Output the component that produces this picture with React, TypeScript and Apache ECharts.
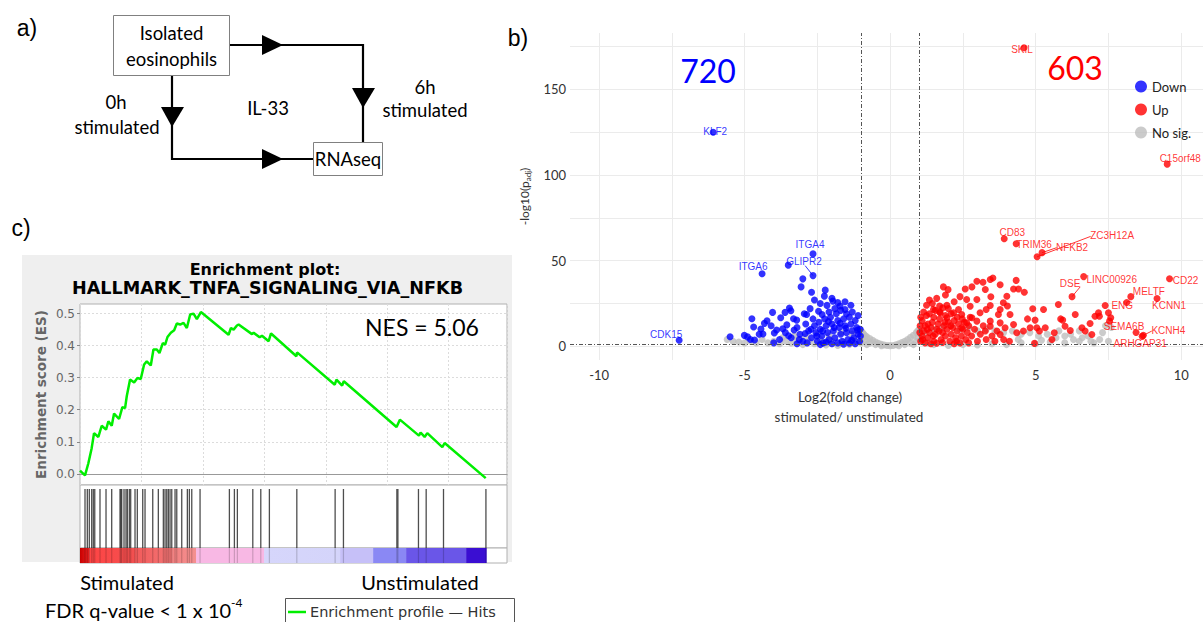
import React, { useEffect, useRef } from "react";
import * as echarts from "echarts";

// ---------------- Panel b: volcano data ----------------
const volcanoXLabels = [-10, -5, 0, 5, 10];
const volcanoXGrid = [-10, -7.5, -5, -2.5, 0, 2.5, 5, 7.5, 10];
const volcanoYLabels = [0, 50, 100, 150];
const volcanoYGrid = [0, 25, 50, 75, 100, 125, 150, 175];
const foldThresholds = [-1, 1];
const pThreshold = 1.3;
const countDown = "720";
const countUp = "603";

const upPoints: [number, number][] = [
  [1.05, 3], [1.1, 6], [1.15, 9], [1.2, 12], [1.1, 15], [1.25, 18], [1.3, 5], [1.35, 8], [1.4, 11], [1.45, 14],
  [1.5, 3], [1.55, 7], [1.6, 10], [1.65, 13], [1.7, 16], [1.75, 4], [1.8, 8], [1.85, 12], [1.9, 6], [1.95, 10],
  [2.0, 14], [2.05, 3], [2.1, 7], [2.15, 11], [2.2, 15], [2.25, 5], [2.3, 9], [2.35, 13], [2.4, 2], [2.45, 6],
  [2.5, 10], [2.55, 14], [2.6, 4], [2.65, 8], [2.7, 12], [2.75, 17], [1.15, 20], [1.35, 19], [1.55, 21], [1.2, 2],
  [1.4, 1.5], [1.6, 1.8], [1.8, 2.2], [1.02, 8], [1.03, 12], [1.05, 17], [1.3, 13], [1.5, 17], [1.7, 20], [1.9, 18],
  [2.1, 19], [2.3, 17], [2.8, 6], [2.9, 10], [3.0, 3], [3.1, 7], [3.2, 12], [3.3, 4], [3.5, 6], [3.6, 3],
  [3.9, 4], [4.1, 3], [2.2, 1.5], [2.7, 2], [2.0, 22], [1.25, 24], [1.45, 25], [1.7, 23.5], [1.95, 24],
  [1.35, 27], [1.6, 28], [2.2, 26], [2.4, 29], [1.9, 30], [1.12, 4], [1.28, 10], [1.48, 6], [1.68, 9], [1.88, 14],
  [2.08, 12], [2.28, 3], [2.48, 16], [1.83, 34.7], [1.99, 33.1], [2.58, 33.5], [2.81, 34.7], [2.98, 38], [3.19, 37.4],
  [3.44, 39], [3.53, 39.9], [3.46, 28.9], [3.27, 33.2], [3.78, 36], [4.01, 29.2], [4.24, 33.5], [4.33, 38.5],
  [4.41, 33.5], [4.61, 31.6], [3.89, 25.4], [4.03, 23.5], [3.78, 21.5], [3.72, 18.6], [3.44, 23.8], [3.3, 21.5],
  [2.98, 27.3], [2.63, 27.3], [2.75, 23.4], [3.09, 19.6], [2.81, 16.7], [2.35, 21.5], [2.46, 18.6], [2.18, 19.6],
  [1.81, 22.5], [1.49, 21.5], [1.72, 19.6], [1.95, 16.7], [4.9, 21.9], [5.27, 21.5], [5.78, 24.4], [5.86, 16],
  [5.93, 15.3], [6.36, 18.6], [4.72, 16], [4.98, 15.3], [4.81, 10.8], [5.04, 10.8], [5.13, 8.9], [5.33, 10.8],
  [4.96, 1.7], [5.56, 4], [5.64, 7.9], [6.01, 11.7], [6.19, 9.2], [6.59, 10.8], [6.7, 8.9], [6.87, 13.3],
  [6.93, 6.9], [7.04, 17.6], [7.16, 19.6], [7.19, 17.6], [7.5, 19.6], [7.58, 16.7], [7.54, 14.7], [8.13, 25.6],
  [4.24, 12.7], [3.95, 10.8], [3.67, 8.9], [3.78, 13.7], [3.44, 11.7], [3.27, 8.9], [4.35, 7.9], [4.58, 8.9],
  [4.12, 18.6], [3.44, 14.7], [2.98, 14.7], [2.63, 13.7], [2.46, 10.8], [3.78, 6.9],
];

const downPoints: [number, number][] = [
  [-5.5, 5.6], [-5.01, 6.4], [-4.9, 5.5], [-4.75, 16.1], [-4.69, 11.3], [-4.66, 3.7], [-4.44, 10.1], [-4.32, 13.4],
  [-4.23, 14.9], [-4.09, 12], [-3.98, 7.8], [-4.04, 19.8], [-4.37, 7.2], [-3.76, 16.7], [-3.69, 10.3], [-3.61, 19.8],
  [-3.46, 22.3], [-3.41, 20.8], [-3.49, 6.2], [-3.32, 16.1], [-3.21, 15.3], [-3.06, 34.7], [-3.0, 39.4], [-2.87, 18.6],
  [-2.7, 31.6], [-2.23, 32.8], [-2.26, 29.3], [-1.97, 26.4], [-2.17, 23.9], [-1.72, 23.5], [-1.55, 21.5], [-2.46, 20.5],
  [-2.34, 18.6], [-3.5, 47.4], [-1.05, 3], [-1.1, 7], [-1.15, 11], [-1.2, 15], [-1.25, 5], [-1.3, 9], [-1.35, 13],
  [-1.4, 17], [-1.45, 4], [-1.5, 8], [-1.55, 12], [-1.6, 16], [-1.65, 3], [-1.7, 7], [-1.75, 11], [-1.8, 15],
  [-1.85, 19], [-1.9, 5], [-1.95, 9], [-2.0, 13], [-2.05, 17], [-2.1, 4], [-2.15, 8], [-2.2, 12], [-2.25, 16],
  [-2.3, 2], [-2.35, 6], [-2.4, 10], [-2.45, 14], [-2.5, 3], [-2.55, 8], [-2.6, 12], [-2.65, 16], [-2.7, 5],
  [-2.8, 9], [-2.9, 13], [-3.0, 3], [-3.1, 7], [-3.2, 11], [-3.4, 5], [-3.6, 8], [-3.8, 4], [-1.1, 18], [-1.3, 20],
  [-1.5, 19], [-1.7, 21], [-1.9, 22], [-2.1, 20], [-1.2, 1.5], [-1.4, 1.8], [-1.6, 1.2], [-1.8, 2], [-2.0, 1.5],
  [-2.2, 2.5], [-2.4, 1], [-1.02, 6], [-1.03, 10], [-2.75, 22], [-2.95, 19], [-1.35, 24], [-1.55, 26], [-1.8, 25.5],
  [-2.0, 28], [-2.4, 25], [-2.6, 27], [-3.2, 1.5], [-2.85, 2], [-4.0, 2], [-4.8, 4], [-4.5, 7], [-1.12, 9.5],
  [-1.32, 3.5], [-1.52, 10.5], [-1.72, 13.5], [-1.92, 11], [-2.12, 14.5], [-2.32, 9], [-2.52, 6], [-2.72, 10],
  [-2.92, 7.5], [-3.12, 4], [-3.3, 9.5], [-3.55, 12.5], [-3.9, 9.5],
];

const nsPoints: [number, number][] = [
  [-5.6, 4], [-5.4, 3], [-5.2, 2.5], [-5.0, 2], [-4.8, 3], [-4.6, 2], [-4.4, 4], [-4.2, 2], [-4.0, 3], [-3.8, 1.5],
  [-3.6, 3], [-3.4, 2], [-3.2, 4], [-3.0, 1], [-2.8, 3], [-2.6, 1.5], [-2.4, 4], [-2.2, 0.8], [-2.0, 3], [-1.8, 0.5],
  [-1.6, 2.5], [-1.4, 1], [-1.2, 3], [-1.0, 2], [-3.7, 5], [-3.3, 6], [-2.9, 5.5], [-2.5, 7], [-2.1, 6], [-1.7, 8],
  [-1.3, 7], [-1.1, 9], [-1.05, 10], [-1.0, 9], [-0.95, 8], [-0.9, 7], [-0.85, 6], [-0.8, 5.5], [-0.7, 4.5],
  [-0.6, 3.5], [-0.5, 2.5], [-0.4, 1.8], [-0.3, 1.2], [-0.2, 0.8], [-0.1, 0.5], [0, 0.4], [0.1, 0.5], [0.2, 0.9],
  [0.3, 1.5], [0.4, 2.2], [0.5, 3], [0.6, 4], [0.7, 5.2], [0.8, 6.5], [0.9, 8], [0.95, 9], [1.0, 10], [-0.9, 3],
  [-0.7, 2], [-0.5, 1], [0.5, 1], [0.7, 2], [0.9, 3], [-0.8, 1], [0.8, 1], [-0.95, 5], [0.95, 5], [-0.3, 0.3],
  [0.3, 0.3], [1.2, 8], [1.5, 10], [1.8, 11], [2.1, 12], [2.4, 10], [2.7, 11], [3, 9], [3.3, 10], [3.6, 9],
  [3.9, 8], [4.2, 9], [4.5, 7], [4.8, 8], [5.1, 6], [5.4, 7], [5.7, 5], [6, 6], [6.3, 4], [6.6, 5], [6.9, 3],
  [7.2, 4], [7.5, 3], [1.5, 1], [2, 0.5], [2.5, 1], [3, 0.8], [3.5, 1.5], [4, 1], [4.5, 2], [5, 1.5], [5.5, 2.5],
  [6, 2], [6.5, 3], [7, 2], [5.8, 9], [6.5, 9], [7.3, 8], [7.6, 11], [7.4, 12], [1.1, 4], [1.3, 2], [4.4, 4],
  [5.2, 3.5], [6.2, 7], [6.8, 6],
];

const labeledUp = [
  { name: "SKIL", x: 4.6, y: 174.4 },
  { name: "C15orf48", x: 9.52, y: 106.4 },
  { name: "CD83", x: 3.92, y: 62.8 },
  { name: "TRIM36", x: 4.33, y: 59.9 },
  { name: "NFKB2", x: 5.22, y: 54.7 },
  { name: "ZC3H12A", x: 5.05, y: 52.3 },
  { name: "DSE", x: 6.25, y: 29 },
  { name: "LINC00926", x: 6.65, y: 40.7 },
  { name: "CD22", x: 9.6, y: 39.5 },
  { name: "MELTF", x: 8.27, y: 29 },
  { name: "KCNN1", x: 9.17, y: 27.9 },
  { name: "ENG", x: 7.39, y: 23.8 },
  { name: "SEMA6B", x: 8.45, y: 8.1 },
  { name: "KCNH4", x: 8.7, y: 6.4 },
  { name: "ARHGAP31", x: 8.66, y: 5.8 },
];
const labeledDown = [
  { name: "KLF2", x: -6.08, y: 125 },
  { name: "ITGA4", x: -2.65, y: 54 },
  { name: "GLIPR2", x: -2.65, y: 41.3 },
  { name: "ITGA6", x: -4.4, y: 42.4 },
  { name: "CDK15", x: -7.25, y: 3.5 },
];
// label placement (pixel offsets from point centre)
const labelOffsets: Record<string, [number, number]> = {
  SKIL: [-2, 2], C15orf48: [13, -6], CD83: [8, -6], TRIM36: [18, 1], NFKB2: [30, -5], ZC3H12A: [75, -21],
  DSE: [-2, -13], LINC00926: [28, 3], CD22: [16, 2], MELTF: [18, -5], KCNN1: [12, 7], ENG: [17, 0],
  SEMA6B: [-12, -6], KCNH4: [25, -5], ARHGAP31: [-2, 7], KLF2: [2, -1], ITGA4: [-3, -9], GLIPR2: [-9, -14],
  ITGA6: [-9, -7], CDK15: [-13, -6],
};
const upConnectors: [[number, number], [number, number]][] = [
  [[5.05, 52.3], [6.89, 64.2]],
  [[5.22, 54.7], [5.72, 57.6]],
  [[6.25, 29], [6.53, 34.7]],
  [[8.7, 6.4], [8.99, 8.9]],
];
const downConnectors: [[number, number], [number, number]][] = [[[-2.65, 41.3], [-2.92, 47.1]]];

// ---------------- Panel c: GSEA data ----------------
const esTicks = [0, 0.1, 0.2, 0.3, 0.4, 0.5];
const esCurve: [number, number][] = [
  [0, 0.01], [163, -0.005], [272, 0.033], [380, 0.08], [457, 0.127], [598, 0.115], [707, 0.15], [848, 0.138],
  [924, 0.164], [1033, 0.15], [1109, 0.188], [1272, 0.171], [1380, 0.208], [1467, 0.205], [1522, 0.242],
  [1630, 0.294], [1761, 0.285], [1870, 0.299], [1978, 0.296], [2087, 0.341], [2174, 0.351], [2304, 0.338],
  [2391, 0.388], [2500, 0.388], [2587, 0.377], [2696, 0.408], [2772, 0.403], [2848, 0.427], [2957, 0.44],
  [3065, 0.448], [3152, 0.469], [3261, 0.466], [3370, 0.471], [3478, 0.455], [3587, 0.497], [3696, 0.5],
  [3804, 0.483], [3935, 0.505], [4837, 0.434], [4913, 0.455], [5000, 0.45], [5109, 0.463], [5163, 0.466],
  [5598, 0.436], [5652, 0.44], [5848, 0.426], [5924, 0.431], [6141, 0.414], [6218, 0.438], [7044, 0.367],
  [7066, 0.379], [8294, 0.278], [8348, 0.294], [8533, 0.275], [8587, 0.289], [10305, 0.146], [10413, 0.169],
  [11033, 0.119], [11087, 0.129], [11218, 0.115], [11305, 0.127], [11794, 0.083], [11870, 0.096], [13207, -0.0135],
];
const hitRanks = [
  163, 238, 303, 381, 433, 480, 651, 847, 1032, 1303, 1330, 1358, 1433, 1498, 1541, 1606, 1650, 1791, 1866,
  2042, 2117, 2368, 2550, 2713, 2768, 2824, 2876, 2931, 2987, 3094, 3150, 3312, 3495, 3560, 3638, 3908, 4863,
  5026, 5123, 5625, 5885, 6165, 7058, 8305, 8576, 10315, 10348, 11018, 11269, 11833, 13214,
];
const rankSegments: [number, number][] = [
  [0, 300], [300, 1800], [1800, 3000], [3000, 3778], [3778, 5993], [5993, 8468], [8468, 9543], [9543, 10618],
  [10618, 12572], [12572, 13223],
];
const segmentColors: [string, string][] = [
  ["#c80000", "#f02424"], ["#ff4444", "#f25050"], ["#f35a5a", "#f27676"], ["#f38080", "#f49090"],
  ["#f8b8e4", "#f8b8e4"], ["#d6d6fb", "#d4d4fa"], ["#c6c0f8", "#c6c0f8"], ["#8a88f4", "#8a88f4"],
  ["#6a56e8", "#6a56e8"], ["#3a0ed2", "#3a0ed2"],
];
const rankMax = 13900;

const SANS = "Lato";

function buildOption(): any {
  const txt = (text: string, x: number, y: number, size: number, extra: any = {}) => ({
    type: "text",
    x,
    y,
    style: {
      text,
      fill: "#000",
      fontSize: size,
      fontFamily: SANS,
      textAlign: "center",
      textVerticalAlign: "middle",
      ...extra,
    },
  });
  const tri = (pts: number[][]) => ({ type: "polygon", shape: { points: pts }, style: { fill: "#000" } });

  const labelSeries = (items: any[], color: string, name: string, conns: any[]) => ({
    type: "scatter",
    name,
    xAxisIndex: 0,
    yAxisIndex: 0,
    symbolSize: 7,
    itemStyle: { color },
    z: 5,
    data: items.map((g) => ({
      name: g.name,
      value: [g.x, g.y],
      label: {
        show: true,
        position: "inside",
        offset: labelOffsets[g.name],
        formatter: g.name,
        color,
        fontSize: 10,
        fontFamily: "Liberation Sans",
      },
    })),
    markLine: {
      silent: true,
      symbol: "none",
      label: { show: false },
      lineStyle: { color, width: 0.8, type: "solid" },
      data: conns.map((c) => [{ coord: c[0] }, { coord: c[1] }]),
    },
  });

  return {
    animation: false,
    backgroundColor: "#fff",
    textStyle: { fontFamily: SANS },
    legend: {
      data: ["Down", "Up", "No sig."],
      orient: "vertical",
      left: 1130,
      top: 75,
      itemWidth: 12,
      itemHeight: 12,
      itemGap: 10,
      icon: "circle",
      textStyle: { fontFamily: SANS, fontSize: 13, color: "#222" },
    },
    grid: [
      { left: 570, top: 33, width: 633, height: 327 },
      { left: 80, top: 304, width: 427, height: 181, show: true, backgroundColor: "#fff", borderColor: "#b0b0b0", borderWidth: 1 },
      { left: 80, top: 485, width: 427, height: 63, show: true, backgroundColor: "#fff", borderColor: "#b0b0b0", borderWidth: 1 },
      { left: 80, top: 548, width: 427, height: 15, show: true, backgroundColor: "#fff", borderColor: "#b0b0b0", borderWidth: 1 },
    ],
    xAxis: [
      {
        type: "value",
        gridIndex: 0,
        min: -11,
        max: 10.75,
        axisLine: { show: false },
        axisTick: { show: false, customValues: volcanoXGrid },
        axisLabel: { customValues: volcanoXLabels, color: "#333", fontSize: 13, fontFamily: SANS, margin: 8 },
        splitLine: { show: true, lineStyle: { color: "#ebebeb", width: 1 } },
      },
      {
        type: "value",
        gridIndex: 1,
        min: 0,
        max: rankMax,
        interval: 2000,
        axisLabel: { show: false },
        axisTick: { show: false },
        axisLine: { show: true, onZero: true, lineStyle: { color: "#999", width: 1 } },
        splitLine: { show: true, lineStyle: { color: "#dcdcdc", type: [2, 2] } },
      },
      { type: "value", gridIndex: 2, min: 0, max: rankMax, show: false },
      { type: "value", gridIndex: 3, min: 0, max: rankMax, show: false },
    ],
    yAxis: [
      {
        type: "value",
        gridIndex: 0,
        min: -8,
        max: 183,
        axisLine: { show: false },
        axisTick: { show: false, customValues: volcanoYGrid },
        axisLabel: { customValues: volcanoYLabels, color: "#333", fontSize: 13, fontFamily: SANS, margin: 4 },
        splitLine: { show: true, lineStyle: { color: "#ebebeb", width: 1 } },
        name: "{a|-log10(p}{s|adj}{a|)}",
        nameLocation: "middle",
        nameGap: 27,
        nameTextStyle: {
          rich: {
            a: { fontSize: 12, fontFamily: SANS, color: "#333", lineHeight: 16, verticalAlign: "middle" },
            s: { fontSize: 8, fontFamily: SANS, color: "#333", lineHeight: 9, verticalAlign: "bottom" },
          },
        },
      },
      {
        type: "value",
        gridIndex: 1,
        min: -0.035,
        max: 0.53,
        axisLine: { show: false },
        axisTick: { show: true, customValues: esTicks, length: 3, lineStyle: { color: "#888" } },
        axisLabel: {
          customValues: esTicks,
          formatter: (v: number) => v.toFixed(1),
          color: "#666",
          fontSize: 12,
          fontFamily: "DejaVu Sans",
          margin: 5,
        },
        splitLine: { show: true, lineStyle: { color: "#dcdcdc", type: [2, 2] } },
        name: "Enrichment score (ES)",
        nameLocation: "middle",
        nameGap: 32,
        nameTextStyle: { color: "#666", fontSize: 13.5, fontFamily: "DejaVu Sans", fontWeight: "bold" },
      },
      { type: "value", gridIndex: 2, min: 0, max: 1, show: false },
      { type: "value", gridIndex: 3, min: 0, max: 1, show: false },
    ],
    series: [
      {
        type: "scatter",
        name: "No sig.",
        xAxisIndex: 0,
        yAxisIndex: 0,
        symbolSize: 7,
        itemStyle: { color: "#bebebe" },
        data: nsPoints,
        z: 2,
        markLine: {
          silent: true,
          symbol: "none",
          label: { show: false },
          lineStyle: { color: "#555", width: 1, type: [4, 2, 1, 2] },
          data: [...foldThresholds.map((v) => ({ xAxis: v })), { yAxis: pThreshold }],
        },
      },
      { type: "scatter", name: "Down", xAxisIndex: 0, yAxisIndex: 0, symbolSize: 7, itemStyle: { color: "#0000ff" }, data: downPoints, z: 3 },
      { type: "scatter", name: "Up", xAxisIndex: 0, yAxisIndex: 0, symbolSize: 7, itemStyle: { color: "#ff0000" }, data: upPoints, z: 3 },
      labelSeries(labeledDown, "#0000ff", "Down", downConnectors),
      labelSeries(labeledUp, "#ff0000", "Up", upConnectors),
      {
        type: "line",
        name: "ES",
        xAxisIndex: 1,
        yAxisIndex: 1,
        data: esCurve,
        showSymbol: false,
        lineStyle: { color: "#00ee00", width: 2.5 },
        z: 5,
      },
      {
        type: "custom",
        name: "Hits",
        xAxisIndex: 2,
        yAxisIndex: 2,
        data: hitRanks.map((r) => [r]),
        renderItem: (params: any, api: any) => {
          const x = api.coord([api.value(0), 0])[0];
          const cs = params.coordSys;
          return {
            type: "line",
            shape: { x1: x, y1: cs.y + 4, x2: x, y2: cs.y + cs.height },
            style: { stroke: "#222", lineWidth: 1.3, opacity: 0.8 },
          };
        },
      },
      {
        type: "custom",
        name: "Rank",
        xAxisIndex: 3,
        yAxisIndex: 3,
        data: rankSegments.map((s, i) => [s[0], s[1], i]),
        renderItem: (params: any, api: any) => {
          const x0 = api.coord([api.value(0), 0])[0];
          const x1 = api.coord([api.value(1), 0])[0];
          const cs = params.coordSys;
          const c = segmentColors[api.value(2)];
          return {
            type: "rect",
            shape: { x: x0, y: cs.y, width: x1 - x0 + 0.5, height: cs.height },
            style: {
              fill: new echarts.graphic.LinearGradient(0, 0, 1, 0, [
                { offset: 0, color: c[0] },
                { offset: 1, color: c[1] },
              ]),
            },
          };
        },
      },
      {
        type: "custom",
        name: "HitsShade",
        xAxisIndex: 3,
        yAxisIndex: 3,
        z: 4,
        data: hitRanks.map((r) => [r]),
        renderItem: (params: any, api: any) => {
          const x = api.coord([api.value(0), 0])[0];
          const cs = params.coordSys;
          return {
            type: "line",
            shape: { x1: x, y1: cs.y, x2: x, y2: cs.y + cs.height },
            style: { stroke: "#000", lineWidth: 1.2, opacity: 0.18 },
          };
        },
      },
    ],
    graphic: [
      // panel c grey background
      { type: "rect", z: -100, shape: { x: 22, y: 255, width: 490, height: 307 }, style: { fill: "#efefef" } },
      // panel labels
      txt("a)", 27, 28, 23, { fontFamily: "Liberation Sans" }),
      txt("b)", 518, 38, 23, { fontFamily: "Liberation Sans" }),
      txt("c)", 21, 228, 23, { fontFamily: "Liberation Sans" }),
      // panel a diagram
      { type: "polyline", shape: { points: [[230, 45], [363, 45], [363, 142]] }, style: { stroke: "#000", lineWidth: 2.2, fill: null } },
      { type: "polyline", shape: { points: [[172, 76], [172, 159], [313, 159]] }, style: { stroke: "#000", lineWidth: 2.2, fill: null } },
      tri([[262, 35], [283, 45], [262, 55]]),
      tri([[352, 88], [375, 88], [363, 108]]),
      tri([[161, 107], [184, 107], [172, 127]]),
      tri([[262, 149], [283, 159], [262, 169]]),
      { type: "rect", shape: { x: 113.5, y: 15.5, width: 116, height: 60 }, style: { fill: "#fff", stroke: "#808080", lineWidth: 1 } },
      { type: "rect", shape: { x: 313.5, y: 142.5, width: 69, height: 33 }, style: { fill: "#fff", stroke: "#808080", lineWidth: 1 } },
      txt("Isolated", 171.5, 33, 18.5),
      txt("eosinophils", 171.5, 59, 18.5),
      txt("RNAseq", 348, 159, 18.5),
      txt("0h", 116, 102, 18.5),
      txt("stimulated", 117, 127, 18.5),
      txt("IL-33", 268, 108, 18.5),
      txt("6h", 425, 87, 18.5),
      txt("stimulated", 425, 110, 18.5),
      // panel b annotations
      txt(countDown, 708, 70, 32, { fill: "#0000ff" }),
      txt(countUp, 1075, 67, 32, { fill: "#ff0000" }),
      txt("Log2(fold change)", 850, 397, 13.5, { fill: "#333" }),
      txt("stimulated/ unstimulated", 849, 417, 13.5, { fill: "#333" }),
      // panel c texts
      txt("Enrichment plot:", 265, 269, 16, { fontFamily: "DejaVu Sans", fontWeight: "bold" }),
      txt("HALLMARK_TNFA_SIGNALING_VIA_NFKB", 267.5, 288, 17.6, { fontFamily: "DejaVu Sans", fontWeight: "bold" }),
      txt("NES = 5.06", 422, 327, 23),
      txt("Stimulated", 127, 582, 20),
      txt("Unstimulated", 420, 582, 20),
      {
        type: "text",
        x: 45,
        y: 608,
        style: {
          text: "{a|FDR q-value < 1 x 10}{b|-4}",
          textVerticalAlign: "middle",
          rich: {
            a: { fontSize: 20, fontFamily: SANS, fill: "#000", color: "#000", lineHeight: 24, verticalAlign: "bottom" },
            b: { fontSize: 12, fontFamily: SANS, fill: "#000", color: "#000", lineHeight: 14, verticalAlign: "top" },
          },
        },
      },
      { type: "rect", shape: { x: 285.5, y: 598.5, width: 229, height: 30 }, style: { fill: "#fff", stroke: "#555", lineWidth: 1 } },
      { type: "line", shape: { x1: 288, y1: 612, x2: 306, y2: 612 }, style: { stroke: "#00ee00", lineWidth: 2.5 } },
      txt("Enrichment profile \u2014 Hits", 310, 612, 14.5, { fontFamily: "DejaVu Sans", fill: "#333", textAlign: "left" }),
    ],
  };
}

export default function App() {
  const ref = useRef<HTMLDivElement>(null);
  useEffect(() => {
    if (!ref.current) return;
    const chart = echarts.init(ref.current, undefined, { renderer: "svg" });
    chart.setOption(buildOption());
    return () => chart.dispose();
  }, []);
  return (
    <div
      ref={ref}
      style={{ position: "fixed", left: 0, top: 0, width: 1203, height: 622, background: "#fff" }}
    />
  );
}
